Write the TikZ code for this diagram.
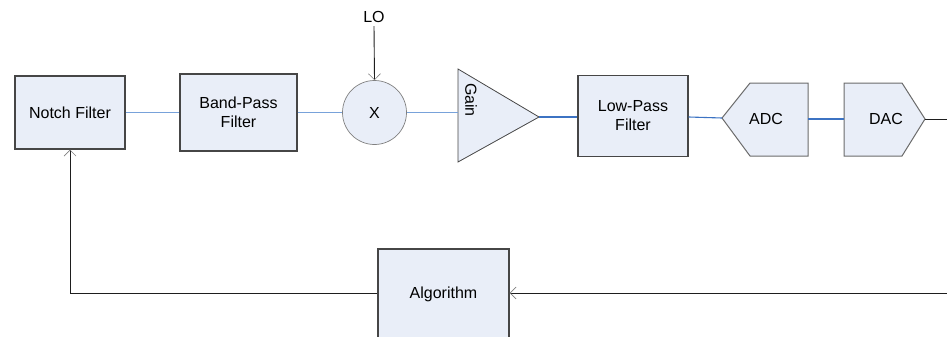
\documentclass[tikz,border=0pt]{standalone}
\usepackage{fontspec}
\setmainfont{Liberation Sans}
\usetikzlibrary{arrows.meta,calc}
\definecolor{boxfill}{RGB}{233,238,248}
\definecolor{boxdraw}{RGB}{70,70,70}
\definecolor{lightwire}{RGB}{120,162,218}
\definecolor{darkwire}{RGB}{60,115,195}
\definecolor{blackwire}{RGB}{30,30,30}
\tikzset{
  blockbox/.style={draw=boxdraw, line width=1.3pt, fill=boxfill, inner sep=0pt, align=center},
  lwire/.style={draw=lightwire, line width=1.1pt},
  dwire/.style={draw=darkwire, line width=1.1pt},
  kwire/.style={draw=blackwire, line width=0.9pt},
  openhead/.style={-{Straight Barb[length=6pt,width=12pt,line width=0.6pt,color=gray]}},
}
\begin{document}
\begin{tikzpicture}[x=1pt,y=-1pt,font=\fontsize{16}{19}\selectfont]
\useasboundingbox (0,0) rectangle (947,337);
\clip (0,0) rectangle (947,337);

% blocks
\node[blockbox, minimum width=110pt, minimum height=73pt] (notch) at (70,112.5) {Notch Filter};
\node[blockbox, minimum width=117pt, minimum height=77pt] (bp) at (238.5,112.5) {Band-Pass\\Filter};
\node[circle, draw=gray, line width=0.7pt, fill=boxfill, minimum size=64pt, inner sep=0pt] (mix) at (374.5,112.5) {X};
\node (lo) at (374,17) {LO};

% gain triangle
\draw[draw=boxdraw, line width=0.8pt, fill=boxfill] (458,69) -- (539,117) -- (458,162) -- cycle;
\coordinate (gainin) at (458,112.5);
\coordinate (gainout) at (539,117);
\node[rotate=-90] (gain) at (471,100) {Gain};

\node[blockbox, minimum width=110pt, minimum height=81pt] (lpf) at (633,116) {Low-Pass\\Filter};

% ADC / DAC
\draw[draw=boxdraw!80, line width=1pt, fill=boxfill] (722,118) -- (750,83) -- (808,83) -- (808,156) -- (750,156) -- cycle;
\coordinate (adcin) at (722,118);
\coordinate (adcout) at (808,119);
\node (adc) at (766,119) {ADC};
\draw[draw=boxdraw!80, line width=1pt, fill=boxfill] (844,83) -- (902,83) -- (925,119) -- (902,156) -- (844,156) -- cycle;
\coordinate (dacin) at (844,119);
\coordinate (dacout) at (925,119);
\node (dac) at (886,119) {DAC};

\node[blockbox, minimum width=131pt, minimum height=90pt] (alg) at (443.5,294) {Algorithm};

\coordinate (outR) at (952,119);
\coordinate (inR) at (952,293);

% wires
\draw[lwire] (notch.east) -- (bp.west |- notch.east);
\draw[lwire] (bp.east) -- (mix.west);
\draw[lwire] (mix.east) -- (gainin);
\draw[dwire] (gainout) -- (lpf.west |- gainout);
\draw[dwire] (lpf.east |- gainout) -- (adcin);
\draw[dwire] (adcout) -- (dacin);
\draw[kwire] (dacout) -- (outR);
\draw[kwire, openhead] (lo.south) -- (mix.north);
\draw[kwire, openhead] (inR) -- (alg.east |- inR);
\draw[kwire, openhead] (alg.west |- inR) -| (notch.south);
\end{tikzpicture}
\end{document}
